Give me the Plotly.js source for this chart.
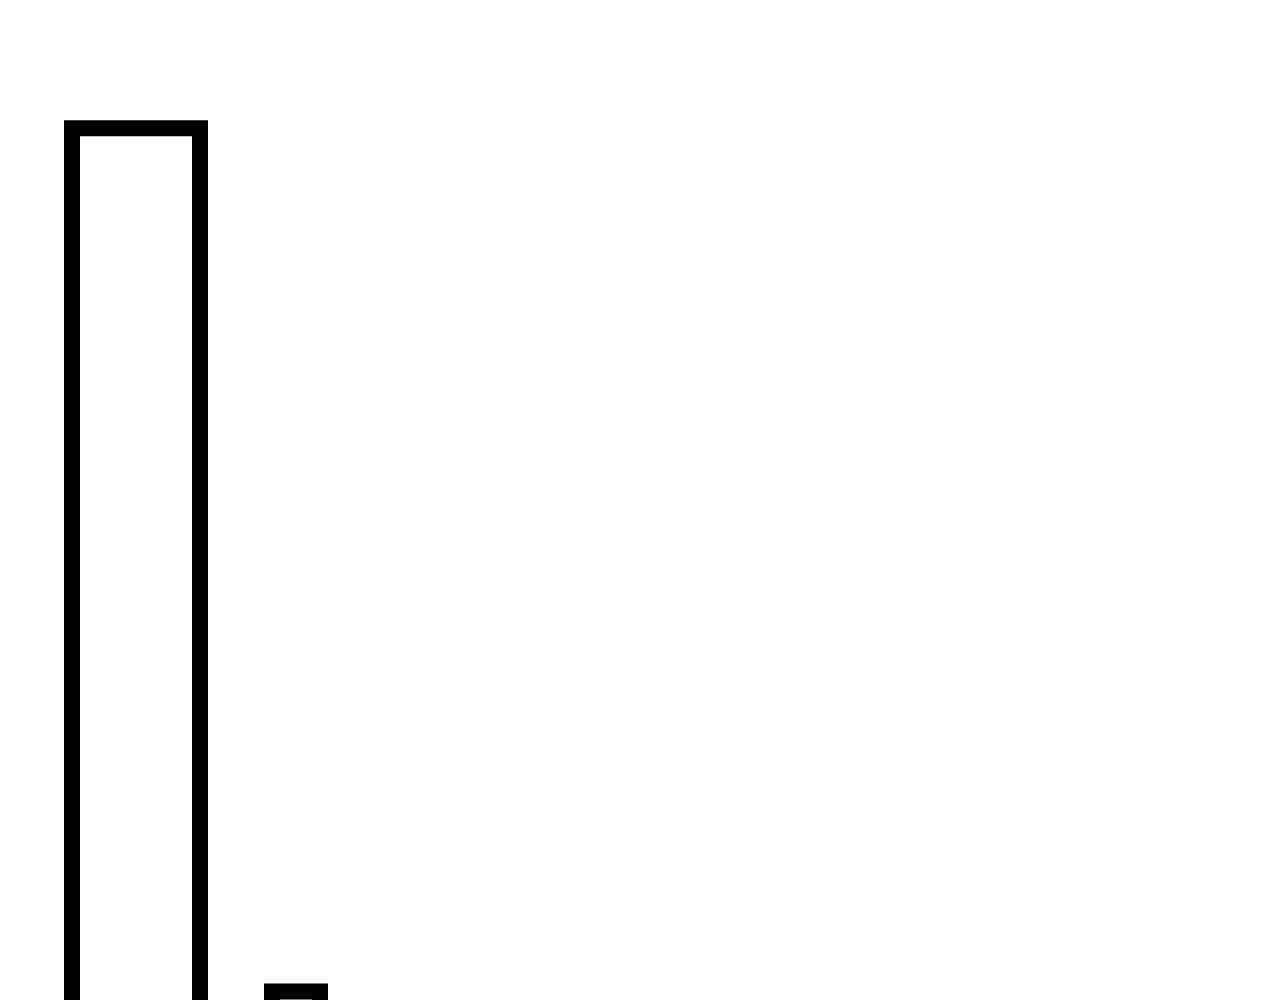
<!DOCTYPE html>
<html>
<head>
<meta charset="utf-8">
<script src="https://cdn.plot.ly/plotly-3.0.1.min.js"></script>
<style>html,body{margin:0;padding:0;background:#fff;}</style>
</head>
<body>
<div id="chart" style="width:1280px;height:1400px;"></div>
<script>
const categories = ["A", "B", "C", "D", "E", "F", "G"];
const values = [96.1, 26.5, 18, 12, 9, 6, 4];

const barWidths = [0.8, 0.3, 0.3, 0.3, 0.3, 0.3, 0.3];

const trace = {
  type: "bar",
  x: categories,
  y: values,
  width: barWidths,
  marker: {color: "#ffffff", line: {color: "#000000", width: 16}},
  hoverinfo: "skip"
};

const layout = {
  width: 1280,
  height: 1400,
  margin: {l: 56, r: 104, t: 80, b: 80},
  paper_bgcolor: "#ffffff",
  plot_bgcolor: "#ffffff",
  showlegend: false,
  xaxis: {type: "category", range: [-0.5, categories.length - 0.5], showgrid: false, zeroline: false, showline: false, showticklabels: false, ticks: ""},
  yaxis: {range: [0, 100], showgrid: false, zeroline: false, showline: false, showticklabels: false, ticks: ""}
};

Plotly.newPlot("chart", [trace], layout, {displayModeBar: false, staticPlot: true});
</script>
</body>
</html>
